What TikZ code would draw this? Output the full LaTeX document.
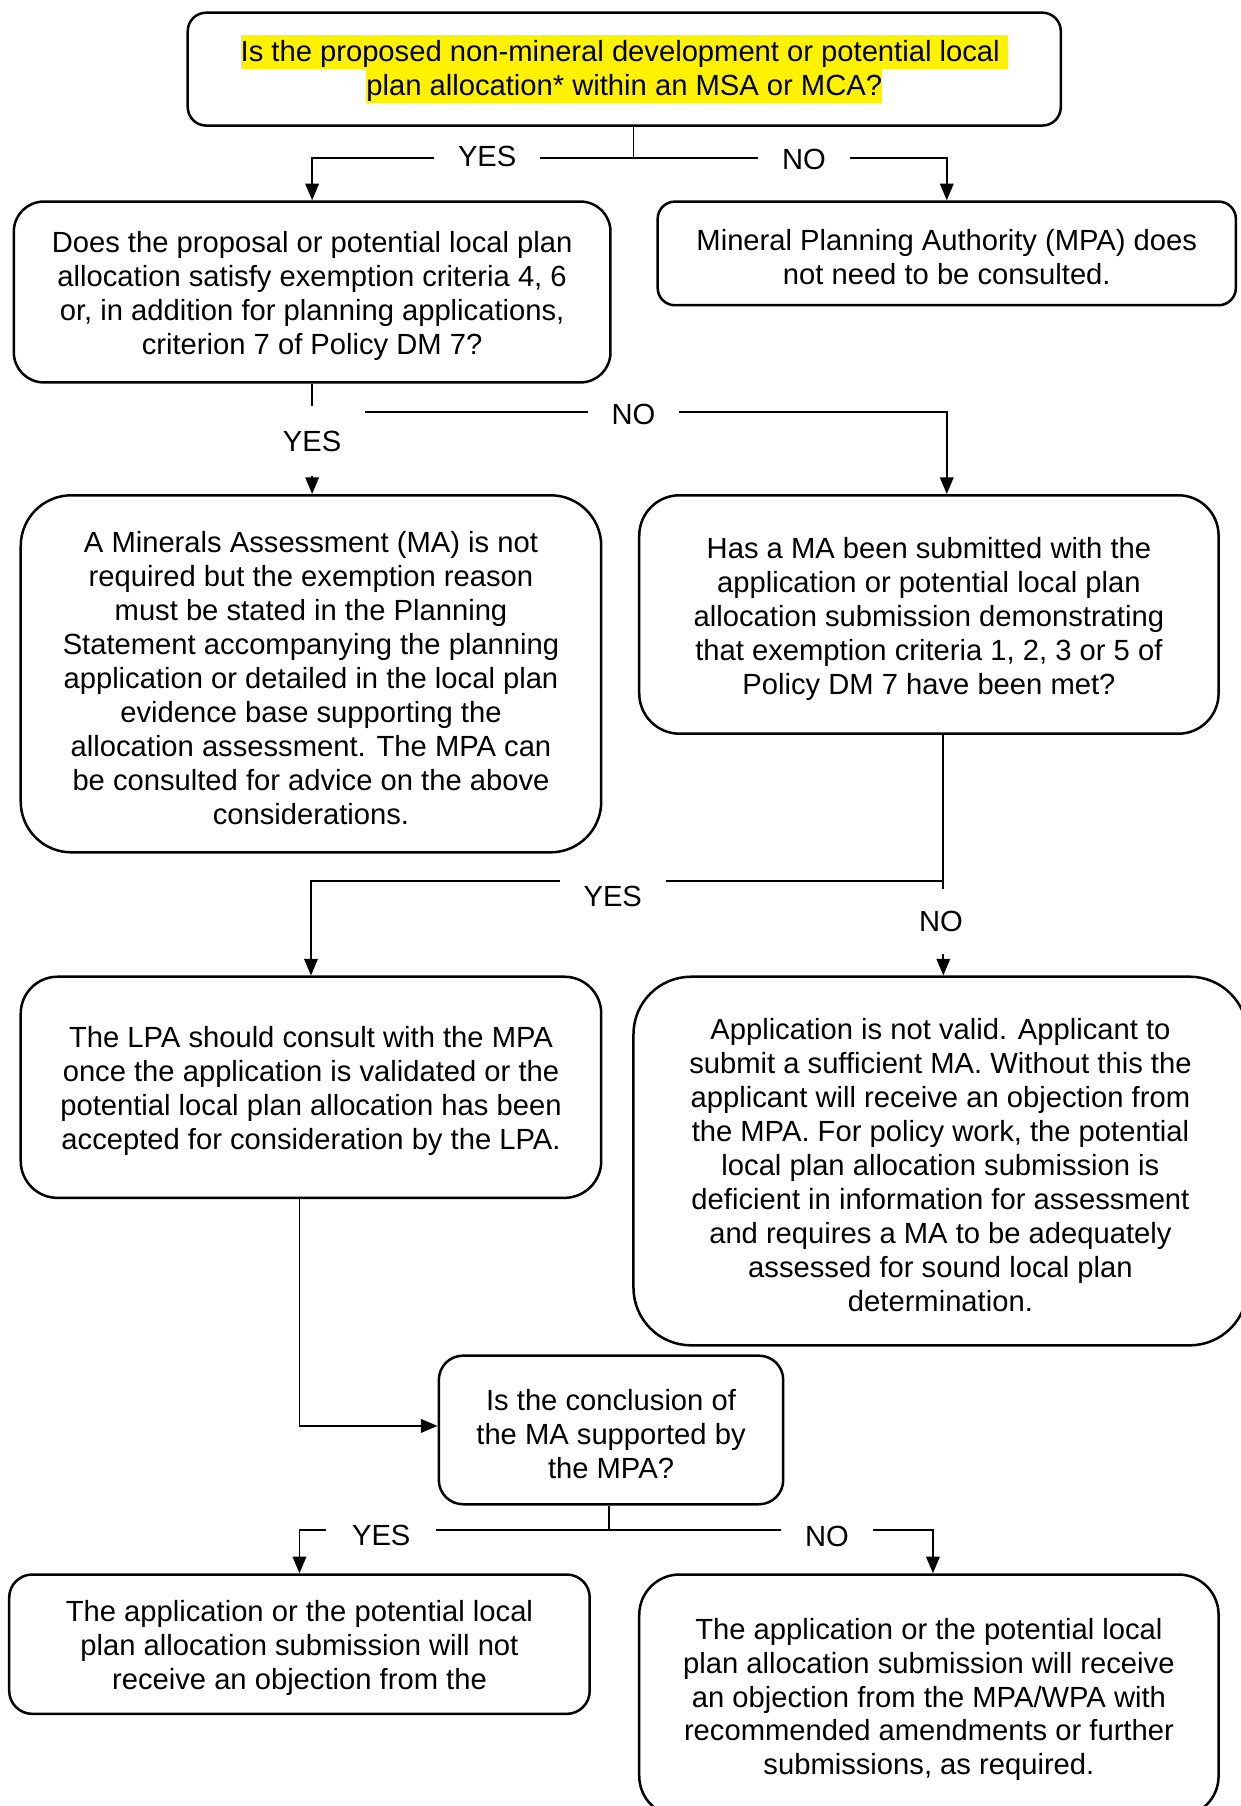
\documentclass[tikz,border=0pt]{standalone}
\usepackage{fontspec}
\setmainfont{Liberation Sans}
\usetikzlibrary{arrows.meta}
% one drawing unit
\newcommand\pxu{0.5526pt}
% raises the top of a text block so it sits a little lower in its box
\newcommand\toprule{\rule{0pt}{14pt}}
% highlighted line of text
\newcommand\hlline[1]{{\setlength{\fboxsep}{0pt}\colorbox{yellow}{\rule[-3.6pt]{0pt}{16.3pt}#1}}}

\begin{document}
\begin{tikzpicture}[x=0.5526pt,y=-0.5526pt,
  every node/.style={font=\fontsize{14}{16.3}\selectfont},
  box/.style={draw, line width=1.2pt, align=center, inner sep=0pt},
  conn/.style={line width=0.9pt},
  arr/.style={line width=0.9pt, -{Triangle[length=8pt,width=6.5pt]}},
  hlab/.style={fill=white, inner xsep=11.5pt, inner ysep=6pt},
  vlab/.style={fill=white, inner xsep=11.5pt, inner ysep=11pt}]

\useasboundingbox (0,0) rectangle (1077,1568);
\fill[white] (0,0) rectangle (1077,1568);

% ---- boxes ----
\node[box, minimum width=758*\pxu, minimum height=98*\pxu, rounded corners=16*\pxu] (A) at (542,60)
  {\hlline{Is the proposed non-mineral development or potential local\ }\\
   \hlline{plan allocation* within an MSA or MCA?}};

\node[box, minimum width=518*\pxu, minimum height=157*\pxu, rounded corners=26*\pxu] (B) at (271,253.5)
  {\toprule Does the proposal or potential local plan\\
   allocation satisfy exemption criteria 4, 6\\
   or, in addition for planning applications,\\
   criterion 7 of Policy DM 7?};

\node[box, minimum width=502*\pxu, minimum height=90*\pxu, rounded corners=15*\pxu] (C) at (822,220)
  {\toprule Mineral Planning Authority (MPA) does\\
   not need to be consulted.};

\node[box, minimum width=504*\pxu, minimum height=310*\pxu, rounded corners=44*\pxu] (D) at (270,585)
  {\toprule A Minerals Assessment (MA) is not\\
   required but the exemption reason\\
   must be stated in the Planning\\
   Statement accompanying the planning\\
   application or detailed in the local plan\\
   evidence base supporting the\\
   allocation assessment. The MPA can\\
   be consulted for advice on the above\\
   considerations.};

\node[box, minimum width=503*\pxu, minimum height=207*\pxu, rounded corners=35*\pxu] (E) at (806.5,533.5)
  {\toprule Has a MA been submitted with the\\
   application or potential local plan\\
   allocation submission demonstrating\\
   that exemption criteria 1, 2, 3 or 5 of\\
   Policy DM 7 have been met?};

\node[box, minimum width=504*\pxu, minimum height=192*\pxu, rounded corners=32*\pxu] (F) at (270,944)
  {\toprule The LPA should consult with the MPA\\
   once the application is validated or the\\
   potential local plan allocation has been\\
   accepted for consideration by the LPA.};

\node[box, minimum width=533*\pxu, minimum height=320*\pxu, rounded corners=50*\pxu] (G) at (816.5,1008)
  {\toprule Application is not valid. Applicant to\\
   submit a sufficient MA. Without this the\\
   applicant will receive an objection from\\
   the MPA. For policy work, the potential\\
   local plan allocation submission is\\
   deficient in information for assessment\\
   and requires a MA to be adequately\\
   assessed for sound local plan\\
   determination.};

\node[box, minimum width=299*\pxu, minimum height=129*\pxu, rounded corners=21*\pxu] (H) at (530.5,1241.5)
  {\toprule Is the conclusion of\\
   the MA supported by\\
   the MPA?};

\node[box, minimum width=504*\pxu, minimum height=121*\pxu, rounded corners=20*\pxu] (I) at (260,1427.5)
  {\toprule The application or the potential local\\
   plan allocation submission will not\\
   receive an objection from the};

\node[box, minimum width=503*\pxu, minimum height=210*\pxu, rounded corners=35*\pxu] (J) at (806.5,1472)
  {\toprule The application or the potential local\\
   plan allocation submission will receive\\
   an objection from the MPA/WPA with\\
   recommended amendments or further\\
   submissions, as required.};

% ---- connectors ----
\coordinate (j1) at (550,137);
\draw[conn] (A.south -| j1) -- (j1);
\draw[arr] (j1) -| (B.north);
\draw[arr] (j1) -| (C.north);

\draw[arr] (B.south) -- (B.south |- D.north);
\coordinate (j2) at (272,358);
\coordinate (xE) at (822,0);
\draw[arr] (j2) -| (E.north -| xE);

\coordinate (j3) at (819,765);
\draw[conn] (E.south -| j3) -- (j3);
\draw[arr] (j3) -| (F.north);
\draw[arr] (j3) -- (G.north -| j3);

\coordinate (j4) at (260,1238);
\draw[arr] (F.south -| j4) -- (j4) -- (H.west |- j4);

\coordinate (j5) at (529,1328);
\coordinate (xJ) at (810,0);
\draw[conn] (H.south -| j5) -- (j5);
\draw[arr] (j5) -| (I.north);
\draw[arr] (j5) -| (J.north -| xJ);

% ---- branch labels ----
\node[hlab] (l1y) at (423,136) {YES};
\node[hlab] (l1n) at (698,138) {NO};
\node[vlab, inner ysep=12pt] (l2y) at (271,383) {YES};
\node[hlab] (l2n) at (550,360) {NO};
\node[hlab] (l3y) at (532,778) {YES};
\node[vlab, inner ysep=10.5pt] (l3n) at (817,800) {NO};
\node[hlab, inner xsep=12.5pt] (l4y) at (331,1333) {YES};
\node[hlab] (l4n) at (718,1334) {NO};
\end{tikzpicture}
\end{document}
